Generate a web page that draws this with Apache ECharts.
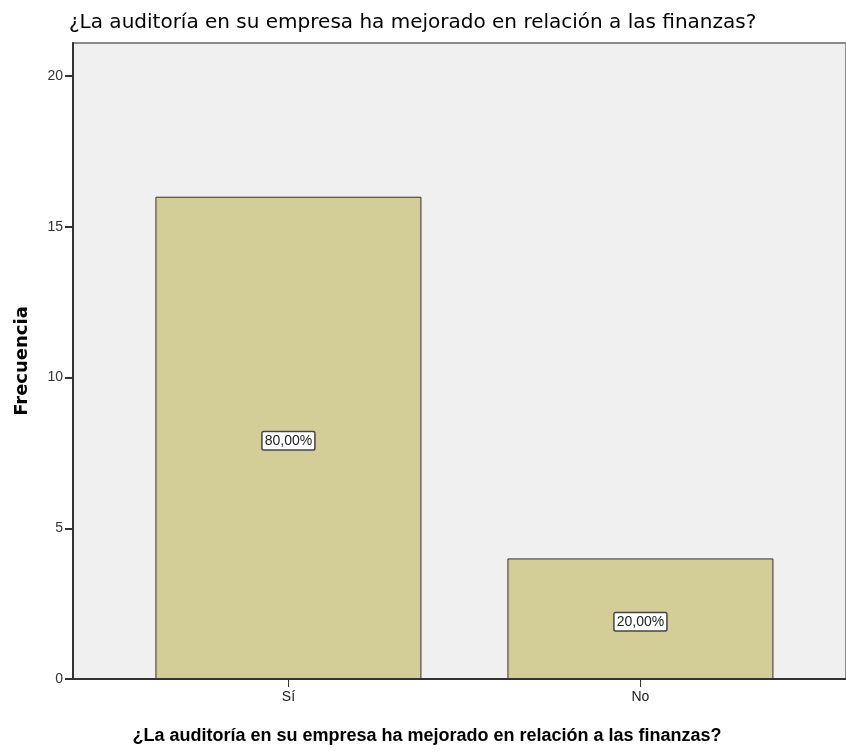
<!DOCTYPE html>
<html>
<head>
<meta charset="utf-8">
<script src="https://cdn.jsdelivr.net/npm/echarts@6/dist/echarts.min.js"></script>
<style>html,body{margin:0;padding:0;background:#fff}#c{width:846px;height:752px}</style>
</head>
<body>
<div id="c"></div>
<script>
const categories = ["Sí", "No"];
const frequencies = [16, 4];
const yTicks = [0, 5, 10, 15, 20];
const titleText = "¿La auditoría en su empresa ha mejorado en relación a las finanzas?";
const yName = "Frecuencia";

const total = frequencies.reduce((a, b) => a + b, 0);
const SANS = '"Liberation Sans",Arial,sans-serif';
const DEJA = '"DejaVu Sans",sans-serif';

const chart = echarts.init(document.getElementById('c'));
chart.setOption({
  animation: false,
  title: [
    { text: titleText, left: 64, top: 8,
      textStyle: { fontFamily: DEJA, fontSize: 20, fontWeight: 'normal', color: '#000' } },
    { text: titleText, left: 422, top: 722, textAlign: 'center',
      textStyle: { fontFamily: SANS, fontSize: 18, fontWeight: 'bold', color: '#000' } }
  ],
  grid: { left: 73, top: 43, right: -2, bottom: 73, show: true,
          backgroundColor: '#F0F0F0', borderColor: '#8a8a8a', borderWidth: 2 },
  xAxis: {
    type: 'value', min: -0.612, max: 1.584,
    splitLine: { show: false },
    axisLine: { show: true, onZero: false, lineStyle: { color: '#333', width: 2 } },
    axisTick: { show: true, length: 8, customValues: categories.map((c, i) => i),
                lineStyle: { color: '#333', width: 1 } },
    axisLabel: { customValues: categories.map((c, i) => i),
                 formatter: v => categories[Math.round(v)] || '',
                 fontFamily: SANS, fontSize: 14, color: '#222', margin: 11 }
  },
  yAxis: {
    type: 'value', min: 0, max: 21.1,
    name: yName, nameLocation: 'middle', nameRotate: 90, nameGap: 42,
    nameTextStyle: { fontFamily: DEJA, fontSize: 18, fontWeight: 'bold', color: '#000' },
    splitLine: { show: false },
    axisLine: { show: true, onZero: false, lineStyle: { color: '#333', width: 2 } },
    axisTick: { show: true, length: 8, customValues: yTicks, lineStyle: { color: '#333', width: 2 } },
    axisLabel: { customValues: yTicks, fontFamily: SANS, fontSize: 14, color: '#333', margin: 10 }
  },
  series: [{
    type: 'bar',
    data: frequencies.map((v, i) => [i, v]),
    barWidth: 266,
    itemStyle: { color: '#D3CE97', borderColor: '#333', borderWidth: 1 },
    label: {
      show: true, position: 'inside',
      formatter: p => (p.value[1] / total * 100).toFixed(2).replace('.', ',') + '%',
      fontFamily: SANS, fontSize: 14, color: '#222',
      backgroundColor: '#fff', borderColor: '#444', borderWidth: 1.5, borderRadius: 1,
      padding: [2, 2, 1, 2], offset: [0, 3]
    }
  }]
});
</script>
</body>
</html>
